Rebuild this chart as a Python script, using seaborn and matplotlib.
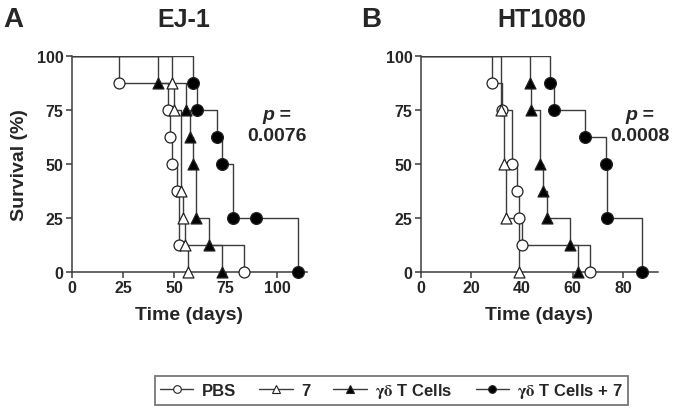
import pandas as pd
import seaborn as sns
import matplotlib
matplotlib.use("Agg")
import matplotlib.pyplot as plt
from matplotlib.lines import Line2D

groups = ["PBS", "7", "gd", "gd7"]
group_labels = ["PBS", "7", r"$\mathrm{\gamma\delta}$ T Cells", r"$\mathrm{\gamma\delta}$ T Cells + 7"]

# Panel A - EJ-1 (days, % survival)
ej1_pbs_t = [0, 23, 47, 48, 49, 51.5, 52.5, 84]
ej1_pbs_s = [100, 87.5, 75, 62.5, 50, 37.5, 12.5, 0]
ej1_7_t = [0, 49, 50, 53, 54, 55, 56.5]
ej1_7_s = [100, 87.5, 75, 37.5, 25, 12.5, 0]
ej1_gd_t = [0, 42, 55.7, 57.6, 59, 60.5, 67, 73]
ej1_gd_s = [100, 87.5, 75, 62.5, 50, 25, 12.5, 0]
ej1_gd7_t = [0, 59, 61, 70.6, 73, 78.4, 90, 110]
ej1_gd7_s = [100, 87.5, 75, 62.5, 50, 25, 25, 0]

# Panel B - HT1080
ht_pbs_t = [0, 28, 32, 36, 38, 39, 40.2, 67]
ht_pbs_s = [100, 87.5, 75, 50, 37.5, 25, 12.5, 0]
ht_7_t = [0, 31.8, 32.8, 33.8, 39]
ht_7_s = [100, 75, 50, 25, 0]
ht_gd_t = [0, 43, 43.7, 47, 48.3, 49.8, 59, 62]
ht_gd_s = [100, 87.5, 75, 50, 37.5, 25, 12.5, 0]
ht_gd7_t = [0, 51.1, 52.7, 65, 73.1, 73.6, 87.3]
ht_gd7_s = [100, 87.5, 75, 62.5, 50, 25, 0]

panel_titles = ["EJ-1", "HT1080"]
panel_letters = ["A", "B"]
p_values = ["0.0076", "0.0008"]
xticks_a = [0, 25, 50, 75, 100]
xticks_b = [0, 20, 40, 60, 80]
yticks = [0, 25, 50, 75, 100]


def make_df(series):
    rows = []
    for g, (t, s) in zip(groups, series):
        for ti, si in zip(t, s):
            rows.append({"group": g, "time": ti, "survival": si})
    return pd.DataFrame(rows)


df_a = make_df([(ej1_pbs_t, ej1_pbs_s), (ej1_7_t, ej1_7_s),
                (ej1_gd_t, ej1_gd_s), (ej1_gd7_t, ej1_gd7_s)])
df_b = make_df([(ht_pbs_t, ht_pbs_s), (ht_7_t, ht_7_s),
                (ht_gd_t, ht_gd_s), (ht_gd7_t, ht_gd7_s)])

sns.set_style("ticks")
plt.rcParams["font.family"] = ["Liberation Sans", "DejaVu Sans"]
plt.rcParams["font.weight"] = "bold"
plt.rcParams["mathtext.fontset"] = "stix"

line_col = "#3c3c3c"
mk = {"PBS": ("o", "white", 62), "7": ("^", "white", 62),
      "gd": ("^", "black", 62), "gd7": ("o", "black", 72)}

fig = plt.figure(figsize=(6.75, 4.1), dpi=100)
ax_a = fig.add_axes([0.1062, 0.3341, 0.3486, 0.5268])
ax_b = fig.add_axes([0.6233, 0.3341, 0.3516, 0.5268])

for ax, df, xt, xmax, pv, px in [(ax_a, df_a, xticks_a, 114.6, p_values[0], 100),
                                 (ax_b, df_b, xticks_b, 93.8, p_values[1], 86.7)]:
    for g in groups:
        sub = df[df.group == g]
        sns.lineplot(data=sub, x="time", y="survival", ax=ax, estimator=None,
                     sort=False, drawstyle="steps-post", color=line_col, lw=1.0)
        m, fc, s = mk[g]
        sns.scatterplot(data=sub[sub.time > 0], x="time", y="survival", ax=ax,
                        marker=m, color=fc, edgecolor="#222222", linewidth=0.9,
                        s=s, clip_on=False, zorder=3)
    ax.set_xlim(0, xmax)
    ax.set_ylim(0, 100)
    ax.set_xticks(xt)
    ax.set_yticks(yticks)
    ax.tick_params(labelsize=11.5, length=4, width=1.1, pad=2, color=line_col)
    for lab in ax.get_xticklabels() + ax.get_yticklabels():
        lab.set_fontweight("bold")
    for sp in ["top", "right"]:
        ax.spines[sp].set_visible(False)
    for sp in ["left", "bottom"]:
        ax.spines[sp].set_linewidth(1.1)
        ax.spines[sp].set_color(line_col)
    ax.set_xlabel("Time (days)", fontsize=14, fontweight="bold", labelpad=8)
    ax.set_ylabel("")
    ax.text(px, 72.7, "p =", ha="center", va="center", fontsize=14,
            fontweight="bold", fontstyle="italic")
    ax.text(px, 63, pv, ha="center", va="center", fontsize=14, fontweight="bold")

ax_a.set_ylabel("Survival (%)", fontsize=14, fontweight="bold", labelpad=6)

fig.text(0.005, 0.952, panel_letters[0], fontsize=20, fontweight="bold", va="center")
fig.text(0.535, 0.952, panel_letters[1], fontsize=20, fontweight="bold", va="center")
fig.text(0.273, 0.952, panel_titles[0], fontsize=18, fontweight="bold", ha="center", va="center")
fig.text(0.803, 0.952, panel_titles[1], fontsize=18, fontweight="bold", ha="center", va="center")

handles = []
for g in groups:
    m, fc, s = mk[g]
    handles.append(Line2D([0], [0], color=line_col, lw=1.0, marker=m, mfc=fc,
                          mec="#222222", ms=5.5, mew=0.8))
leg = fig.legend(handles, group_labels, loc="center", bbox_to_anchor=(0.58, 0.045),
                 ncol=4, frameon=True, fancybox=False, edgecolor="#555555",
                 prop={"size": 12, "weight": "bold"}, handlelength=2.0,
                 handletextpad=0.5, columnspacing=1.4, borderpad=0.3,
                 borderaxespad=0.2)
leg.get_frame().set_linewidth(1.3)

fig.savefig("out.png", dpi=100)
